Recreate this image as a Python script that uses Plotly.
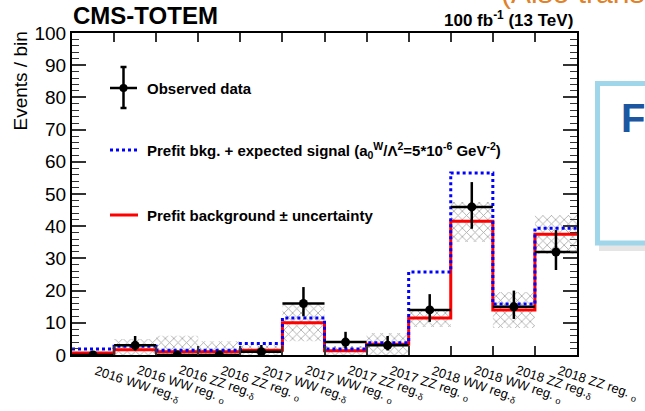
import plotly.graph_objects as go

# ---- data -------------------------------------------------------------
bins = [
    "2016 WW reg.<sub>δ</sub>", "2016 WW reg. <sub>o</sub>",
    "2016 ZZ reg.<sub>δ</sub>", "2016 ZZ reg. <sub>o</sub>",
    "2017 WW reg.<sub>δ</sub>", "2017 WW reg. <sub>o</sub>",
    "2017 ZZ reg.<sub>δ</sub>", "2017 ZZ reg. <sub>o</sub>",
    "2018 WW reg.<sub>δ</sub>", "2018 WW reg. <sub>o</sub>",
    "2018 ZZ reg.<sub>δ</sub>", "2018 ZZ reg. <sub>o</sub>",
]
observed = [0, 3, 0, 0, 1, 16, 4, 3, 14, 46, 15, 32]
obs_err_up = [0, 2.9, 0, 0, 2.1, 5.1, 3.2, 2.9, 4.9, 7.7, 5.0, 6.8]
obs_err_dn = [0, 1.6, 0, 0, 0.8, 4.0, 1.9, 1.6, 3.7, 6.8, 3.8, 5.6]
background = [0.6, 1.6, 1.0, 1.0, 1.5, 10.0, 1.3, 3.3, 11.5, 41.5, 14.0, 37.5]
bkg_plus_signal = [1.9, 2.7, 1.5, 1.5, 3.6, 11.5, 1.9, 3.8, 25.8, 56.5, 15.8, 39.4]
unc_low = [0, 0, 0, 0, 0, 4.3, 0, 0, 8.7, 35.1, 8.4, 31.5]
unc_high = [1.0, 5.0, 6.0, 4.3, 3.0, 15.8, 2.8, 6.8, 14.3, 47.5, 19.6, 43.5]

n = len(bins)
edges = list(range(n + 1))
centers = [i + 0.5 for i in range(n)]

FONT = "Liberation Sans, Arial, Helvetica, sans-serif"

# frame geometry (pixels) used for placing decorations
L, R, T, B = 72, 577, 33, 355
W, H = R - L, B - T


def px(xp):
    return (xp - L) / W


def py(yp):
    return (B - yp) / H


fig = go.Figure()

# hatched uncertainty band around the background prediction
fig.add_trace(go.Bar(
    x=centers,
    y=[h - l for h, l in zip(unc_high, unc_low)],
    base=unc_low,
    width=1.0,
    marker=dict(
        color="rgba(0,0,0,0)",
        line=dict(width=0),
        pattern=dict(shape="x", fgcolor="#4a4a4a", bgcolor="rgba(0,0,0,0)",
                     size=6, solidity=0.25, fillmode="overlay"),
    ),
    hoverinfo="skip",
))

# prefit background (red step)
fig.add_trace(go.Scatter(
    x=edges, y=background + [background[-1]],
    mode="lines", line=dict(color="#ff0000", width=3, shape="hv"),
))

# prefit background + expected signal (blue dotted step)
fig.add_trace(go.Scatter(
    x=edges, y=bkg_plus_signal + [bkg_plus_signal[-1]],
    mode="lines", line=dict(color="#0000ff", width=3, shape="hv", dash="3px,3px"),
))

# observed data points
fig.add_trace(go.Scatter(
    x=centers, y=observed, mode="markers",
    marker=dict(color="black", size=9),
    error_y=dict(type="data", symmetric=False, array=obs_err_up,
                 arrayminus=obs_err_dn, color="black", thickness=2.5, width=0),
    error_x=dict(type="constant", value=0.5, color="black", thickness=2.5, width=0),
))

annotations = []
shapes = []

# rotated bin labels
for c, lab in zip(centers, bins):
    annotations.append(dict(
        x=c, y=py(360), xref="x", yref="paper", text=lab, showarrow=False,
        xanchor="left", yanchor="top", textangle=18, xshift=-3,
        font=dict(family=FONT, size=13, color="black"),
    ))

# y-axis title
annotations.append(dict(
    x=px(20), y=py(30), xref="paper", yref="paper", text="Events / bin",
    showarrow=False, textangle=-90, xanchor="center", yanchor="top",
    font=dict(family=FONT, size=19, color="black"),
))

# header texts
annotations.append(dict(
    x=px(71), y=py(16), xref="paper", yref="paper", text="<b>CMS-TOTEM</b>",
    showarrow=False, xanchor="left", yanchor="middle",
    font=dict(family=FONT, size=24, color="black"),
))
annotations.append(dict(
    x=px(575), y=py(19), xref="paper", yref="paper",
    text="<b>100 fb<sup>-1</sup> (13 TeV)</b>",
    showarrow=False, xanchor="right", yanchor="middle",
    font=dict(family=FONT, size=17, color="black"),
))
annotations.append(dict(
    x=px(499), y=py(-7), xref="paper", yref="paper", text="(Also trans",
    showarrow=False, xanchor="left", yanchor="middle",
    font=dict(family=FONT, size=30, color="#e0822a"),
))

# legend
LEG_X0, LEG_X1, LEG_TX = 110, 138, 145
shapes += [
    dict(type="line", xref="paper", yref="paper", x0=px(LEG_X0), x1=px(137),
         y0=py(88), y1=py(88), line=dict(color="black", width=2.5)),
    dict(type="line", xref="paper", yref="paper", x0=px(123.5), x1=px(123.5),
         y0=py(67), y1=py(108), line=dict(color="black", width=2.5)),
    dict(type="line", xref="paper", yref="paper", x0=px(120.5), x1=px(126.5),
         y0=py(67), y1=py(67), line=dict(color="black", width=2.5)),
    dict(type="line", xref="paper", yref="paper", x0=px(120.5), x1=px(126.5),
         y0=py(108), y1=py(108), line=dict(color="black", width=2.5)),
    dict(type="circle", xref="paper", yref="paper", x0=px(119.5), x1=px(127.5),
         y0=py(84), y1=py(92), fillcolor="black", line=dict(color="black", width=0)),
    dict(type="line", xref="paper", yref="paper", x0=px(LEG_X0), x1=px(LEG_X1),
         y0=py(150), y1=py(150), line=dict(color="#0000ff", width=3, dash="3px,3px")),
    dict(type="line", xref="paper", yref="paper", x0=px(LEG_X0), x1=px(LEG_X1),
         y0=py(215), y1=py(215), line=dict(color="#ff0000", width=3)),
]
legend_text = [
    (88, "<b>Observed data</b>"),
    (150, "<b>Prefit bkg. + expected signal (a<sub>0</sub><sup>W</sup>/Λ<sup>2</sup>"
          "=5*10<sup>-6</sup> GeV<sup>-2</sup>)</b>"),
    (215, "<b>Prefit background ± uncertainty</b>"),
]
for yy, txt in legend_text:
    annotations.append(dict(
        x=px(LEG_TX), y=py(yy), xref="paper", yref="paper", text=txt,
        showarrow=False, xanchor="left", yanchor="middle",
        font=dict(family=FONT, size=15, color="black"),
    ))

# overlapping callout box at the right edge
shapes += [
    dict(type="rect", xref="paper", yref="paper", x0=px(599), x1=px(700),
         y0=py(86), y1=py(251), fillcolor="rgba(0,0,0,0.10)",
         line=dict(width=0), layer="above"),
    dict(type="rect", xref="paper", yref="paper", x0=px(597.5), x1=px(700),
         y0=py(83.5), y1=py(243), fillcolor="white",
         line=dict(color="#9fd6ea", width=5), layer="above"),
]
annotations.append(dict(
    x=px(619), y=py(118), xref="paper", yref="paper", text="<b>Fi</b>",
    showarrow=False, xanchor="left", yanchor="middle",
    font=dict(family=FONT, size=40, color="#1c55a0"),
))

axis_common = dict(
    showline=True, linecolor="black", linewidth=2, mirror="allticks",
    ticks="inside", tickcolor="#333333", showgrid=False, zeroline=False,
)

fig.update_layout(
    width=645, height=411,
    margin=dict(l=L, r=645 - R, t=T, b=411 - B),
    paper_bgcolor="white", plot_bgcolor="white",
    showlegend=False, barmode="overlay",
    xaxis=dict(range=[0, n], tickvals=edges[1:-1], ticklen=9, tickwidth=1.5,
               showticklabels=False, **axis_common),
    yaxis=dict(range=[0, 100], tickvals=list(range(0, 101, 10)), ticklen=14,
               tickwidth=1.5,
               tickfont=dict(family=FONT, size=19, color="black"),
               minor=dict(dtick=2, ticks="inside", ticklen=7, tickcolor="#333333",
                          tickwidth=1.2),
               **axis_common),
    annotations=annotations,
    shapes=shapes,
)

fig.write_html("out.html")
